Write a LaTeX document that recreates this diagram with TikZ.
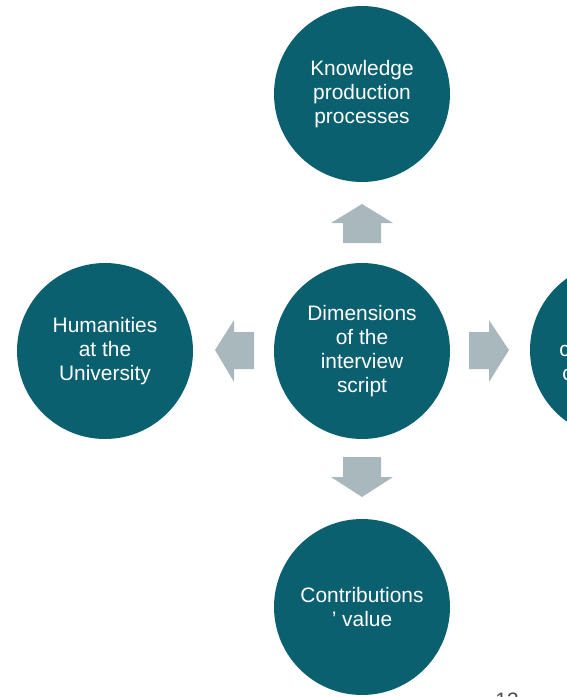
\documentclass[tikz,border=0pt]{standalone}
\usepackage{fontspec}
\setmainfont{Liberation Sans}
\definecolor{teal}{RGB}{11,96,112}
\definecolor{arrowgray}{RGB}{169,184,188}
\tikzset{
  topic/.style={circle,fill=teal,minimum size=3.52cm,inner sep=0pt,text=white,align=center,
    font=\fontsize{11.9}{13.6}\selectfont},
  block/.style={fill=arrowgray,draw=none}
}
\begin{document}
\begin{tikzpicture}[x=0.02cm,y=-0.02cm]
\useasboundingbox (0,0) rectangle (567,697);
\clip (0,0) rectangle (567,697);

\node[topic] (centre) at (362,351) {Dimensions\\of the\\interview\\script};
\node[topic] (top) at (362,94) {Knowledge\\production\\processes};
\node[topic] (left) at (105,351) {Humanities\\at the\\University};
\node[topic] (bottom) at (362,607) {Contributions\\’ value};
\node[topic] (right) at (618,350) {};
\node[text=white,font=\fontsize{11.9}{13.6}\selectfont,anchor=west,inner sep=0pt] (rightone) at (559,351) {c};
\node[text=white,font=\fontsize{11.9}{13.6}\selectfont,anchor=west,inner sep=0pt] (righttwo) at (562,375) {c};

% arrows
\fill[block] (343,243) -- (343,223) -- (331,223) -- (362,204) -- (393,223) -- (381,223) -- (381,243) -- cycle;
\fill[block] (343,457) -- (343,477) -- (331,477) -- (362,497) -- (393,477) -- (381,477) -- (381,457) -- cycle;
\fill[block] (469,332) -- (489,332) -- (489,320) -- (509,350) -- (489,382) -- (489,369) -- (469,369) -- cycle;
\fill[block] (254,332) -- (234,332) -- (234,320) -- (215,350) -- (234,382) -- (234,369) -- (254,369) -- cycle;

\node[font=\fontsize{11.9}{13.6}\selectfont,text=black!70] (page) at (507,700) {13};
\end{tikzpicture}
\end{document}
